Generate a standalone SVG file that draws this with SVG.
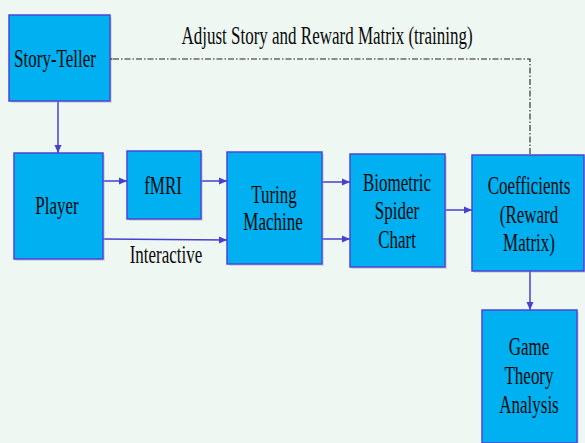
<svg xmlns="http://www.w3.org/2000/svg" width="585" height="443" viewBox="0 0 585 443">
<style>
.box{fill:#00B0F0;stroke:#4B45D6;stroke-width:1.5}
.sh{fill:#9aa6b0;opacity:0.35}
text{font-family:'Liberation Serif','DejaVu Serif','Noto Serif',serif;font-size:25px;fill:#0a0a0a;text-anchor:middle}
.c{fill:none;stroke:#4640D0;stroke-width:1.5}
.d{fill:none;stroke:#222;stroke-width:1.1;stroke-dasharray:6 2 1.5 2}
</style>
<defs>
<marker id="ah" viewBox="0 0 8 8" refX="8" refY="4" markerWidth="8" markerHeight="8" markerUnits="userSpaceOnUse" orient="auto">
<path d="M0,0.5 L8,4 L0,7.5 Z" fill="#4640D0"/>
</marker>
<marker id="oh" viewBox="0 0 10 10" refX="1" refY="5" markerWidth="9" markerHeight="9" markerUnits="userSpaceOnUse" orient="auto">
<path d="M9,1 L1,5 L9,9" fill="none" stroke="#222" stroke-width="1.2"/>
</marker>
</defs>
<rect width="585" height="443" fill="#EEF7F2"/>
<text transform="translate(327,44) scale(0.68,1)">Adjust Story and Reward Matrix (training)</text>
<g id="connectors">
<path class="d" d="M530,154 L530,59 L112,59" marker-end="url(#oh)"/>
<path class="c" d="M58,101 L58,153" marker-end="url(#ah)"/>
<path class="c" d="M103,181 L127,181" marker-end="url(#ah)"/>
<path class="c" d="M201,181 L227,181" marker-end="url(#ah)"/>
<path class="c" d="M103,239 L227,240" marker-end="url(#ah)"/>
<path class="c" d="M322,182 L350,182" marker-end="url(#ah)"/>
<path class="c" d="M322,239 L350,239" marker-end="url(#ah)"/>
<path class="c" d="M445,210 L472,210" marker-end="url(#ah)"/>
<path class="c" d="M530,271 L530,310" marker-end="url(#ah)"/>
<text transform="translate(166,263) scale(0.68,1)">Interactive</text>
</g>
<g id="story-teller">
<rect class="sh" x="11" y="17" width="101" height="86"/>
<rect class="box" x="9" y="15" width="101" height="86"/>
<text transform="translate(55,67) scale(0.68,1)">Story-Teller</text>
</g>
<g id="player">
<rect class="sh" x="16" y="155" width="89" height="106"/>
<rect class="box" x="14" y="153" width="89" height="106"/>
<text transform="translate(57,214) scale(0.68,1)">Player</text>
</g>
<g id="fmri">
<rect class="sh" x="129" y="153" width="74" height="68"/>
<rect class="box" x="127" y="151" width="74" height="68"/>
<text transform="translate(163,194) scale(0.68,1)">fMRI</text>
</g>
<g id="turing">
<rect class="sh" x="229" y="154" width="95" height="112"/>
<rect class="box" x="227" y="152" width="95" height="112"/>
<text transform="translate(274,203) scale(0.68,1)">Turing</text>
<text transform="translate(273,230) scale(0.68,1)">Machine</text>
</g>
<g id="spider">
<rect class="sh" x="352" y="156" width="95" height="113"/>
<rect class="box" x="350" y="154" width="95" height="113"/>
<text transform="translate(397,191) scale(0.68,1)">Biometric</text>
<text transform="translate(397,219) scale(0.68,1)">Spider</text>
<text transform="translate(397,248) scale(0.68,1)">Chart</text>
</g>
<g id="coefficients">
<rect class="sh" x="474" y="157" width="112" height="116"/>
<rect class="box" x="472" y="155" width="112" height="116"/>
<text transform="translate(529,194) scale(0.68,1)">Coefficients</text>
<text transform="translate(529,223) scale(0.68,1)">(Reward</text>
<text transform="translate(529,251) scale(0.68,1)">Matrix)</text>
</g>
<g id="game-theory">
<rect class="sh" x="484" y="312" width="95" height="133"/>
<rect class="box" x="482" y="310" width="95" height="133"/>
<text transform="translate(529,355) scale(0.68,1)">Game</text>
<text transform="translate(529,384) scale(0.68,1)">Theory</text>
<text transform="translate(529,413) scale(0.68,1)">Analysis</text>
</g>
</svg>
